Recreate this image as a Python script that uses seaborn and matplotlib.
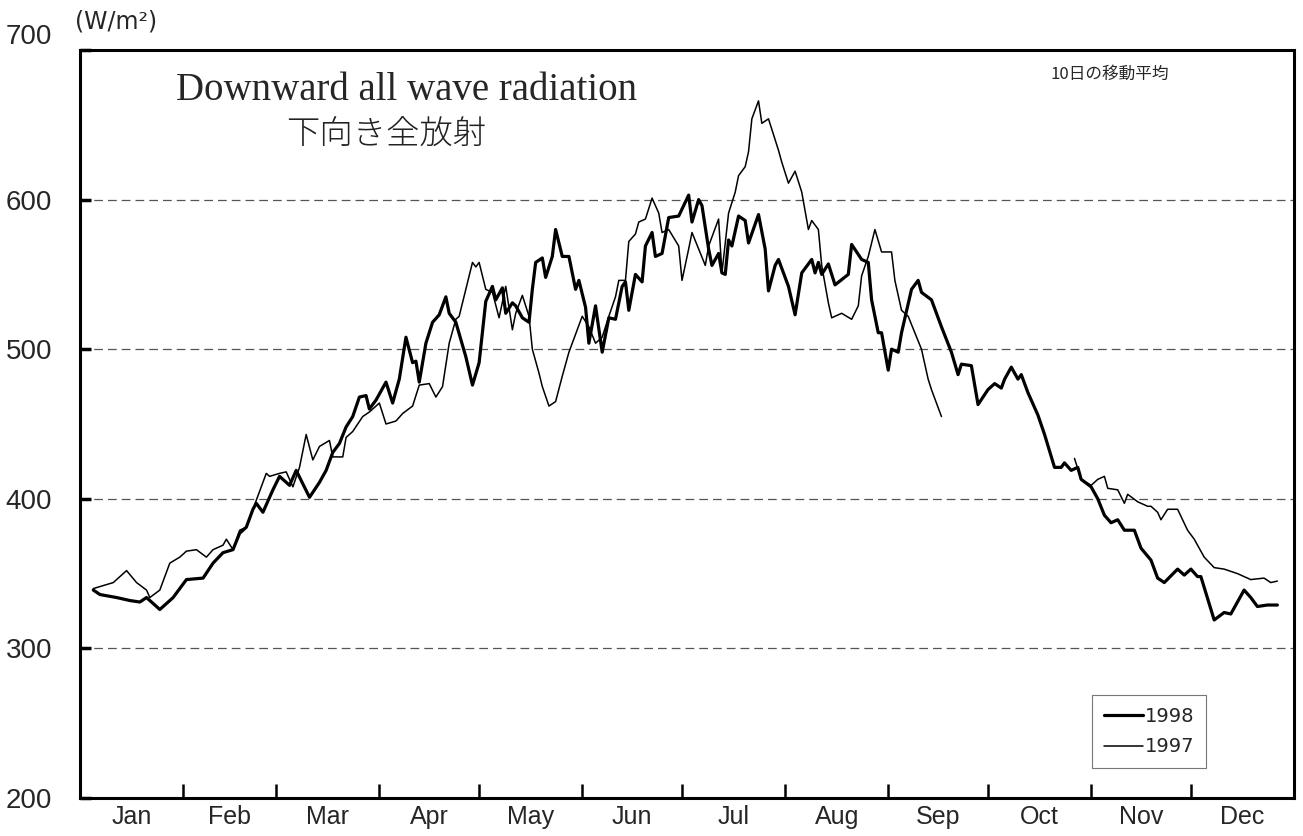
import numpy as np
import pandas as pd
import matplotlib
matplotlib.use("Agg")
import matplotlib.pyplot as plt
from matplotlib.lines import Line2D
import seaborn as sns

# ---------------- data (10-day moving average, W/m2) ----------------
days_1998 = [4, 6, 11, 15, 18, 20, 24, 26, 28, 32, 37, 40, 43, 46, 48, 50, 52, 53, 55, 58,
             60, 63, 65, 69, 72, 74, 76, 78, 80, 82, 84, 86, 87, 89, 92, 94, 96, 98, 100, 101,
             102, 104, 106, 108, 110, 111, 113, 116, 118, 120, 122, 124, 125, 127, 128, 130, 131, 133, 135, 136,
             137, 139, 140, 142, 143, 145, 147, 149, 150, 152, 153, 155, 157, 159, 161, 163, 164, 165, 167, 169,
             170, 172, 173, 175, 177, 180, 183, 184, 186, 187, 189, 190, 192, 193, 194, 195, 196, 198, 200, 201,
             204, 206, 207, 209, 210, 213, 215, 217, 220, 221, 222, 223, 225, 227, 231, 232, 235, 237, 238, 240,
             241, 243, 244, 246, 247, 250, 252, 253, 256, 259, 262, 264, 265, 268, 270, 273, 275, 277, 278, 280,
             282, 283, 285, 288, 290, 293, 295, 296, 298, 300, 301, 304, 306, 308, 310, 312, 314, 317, 319, 322,
             324, 326, 330, 332, 334, 336, 337, 341, 344, 346, 350, 352, 354, 357, 360]
vals_1998 = [339, 336, 334, 332, 331, 334, 326, 330, 334, 346, 347, 357, 364, 366, 377, 381, 393, 397, 391, 406,
             415, 409, 419, 401, 411, 419, 431, 437, 448, 455, 468, 469, 460, 466, 478, 464, 480, 508, 491, 492,
             478, 504, 518, 523, 535, 524, 518, 495, 476, 491, 532, 542, 533, 541, 524, 531, 529, 521, 518, 540,
             558, 561, 548, 562, 580, 562, 562, 540, 546, 528, 504, 529, 498, 521, 520, 542, 545, 526, 550, 545,
             569, 578, 562, 564, 588, 589, 603, 585, 600, 596, 567, 556, 564, 551, 550, 573, 569, 589, 586, 571,
             590, 567, 539, 556, 560, 542, 523, 551, 560, 551, 558, 550, 557, 543, 550, 570, 560, 558, 533, 511,
             511, 486, 500, 498, 511, 540, 546, 538, 533, 515, 498, 483, 490, 489, 463, 473, 477, 474, 480, 488,
             480, 483, 471, 456, 443, 421, 421, 424, 419, 421, 413, 408, 400, 389, 384, 386, 379, 379, 367, 359,
             347, 344, 353, 349, 353, 348, 348, 319, 324, 323, 339, 334, 328, 329, 329]

days_1997 = [4, 10, 14, 17, 20, 21, 24, 27, 30, 32, 35, 38, 40, 43, 44, 46, 48, 50, 53, 56,
             57, 60, 62, 64, 66, 68, 70, 72, 75, 76, 79, 80, 82, 85, 87, 90, 92, 95, 97, 100,
             102, 105, 107, 109, 111, 113, 114, 116, 118, 119, 120, 122, 124, 126, 128, 130, 131, 133, 135, 136,
             138, 139, 141, 143, 145, 147, 149, 151, 153, 155, 157, 159, 161, 162, 164, 165, 167, 168, 170, 172,
             174, 175, 177, 180, 181, 183, 184, 188, 189, 192, 193, 195, 197, 198, 200, 201, 202, 204, 205, 207,
             210, 211, 213, 215, 217, 219, 220, 222, 223, 225, 226, 229, 232, 234, 235, 237, 239, 241, 244, 245,
             247, 249, 251, 253, 255, 256, 259,
             299, 301, 304, 306, 308, 309, 312, 314, 315, 318, 321, 322, 324, 325, 327, 330, 333, 335, 338, 341,
             344, 348, 352, 356, 358, 360]
vals_1997 = [340, 344, 352, 344, 339, 334, 339, 357, 361, 365, 366, 361, 366, 369, 373, 366, 379, 381, 399, 417,
             415, 417, 418, 408, 421, 443, 426, 435, 439, 428, 428, 441, 445, 455, 458, 464, 450, 452, 457, 462,
             476, 477, 468, 475, 504, 520, 522, 540, 558, 555, 558, 540, 538, 521, 542, 513, 524, 536, 522, 500,
             484, 475, 462, 465, 482, 498, 510, 522, 515, 504, 508, 522, 535, 546, 546, 572, 577, 585, 587, 601,
             591, 578, 580, 569, 546, 567, 578, 556, 569, 587, 551, 591, 605, 616, 622, 632, 654, 666, 651, 654,
             633, 625, 611, 619, 605, 580, 586, 580, 556, 531, 521, 524, 520, 529, 549, 562, 580, 565, 565, 546,
             526, 522, 511, 500, 480, 473, 455,
             427, 413, 409, 413, 415, 407, 406, 397, 403, 398, 395, 395, 391, 386, 393, 393, 379, 373, 361, 354,
             353, 350, 346, 347, 344, 345]
segment_1997 = [0] * 127 + [1] * 26

month_edges = [0, 31, 59, 90, 120, 151, 181, 212, 243, 273, 304, 334, 365]
month_labels = ["Jan", "Feb", "Mar", "Apr", "May", "Jun", "Jul", "Aug", "Sep", "Oct", "Nov", "Dec"]
y_ticks = [200, 300, 400, 500, 600, 700]

df98 = pd.DataFrame({"day": days_1998, "value": vals_1998})
df97 = pd.DataFrame({"day": days_1997, "value": vals_1997, "seg": segment_1997})

# ---------------- style ----------------
sns.set_theme(style="white")
plt.rcParams["font.family"] = ["Liberation Sans", "Noto Sans CJK JP", "DejaVu Sans"]

fig = plt.figure(figsize=(13.03, 8.36), dpi=100)
ax = fig.add_axes([80 / 1303, 38 / 836, 1214 / 1303, 748 / 836])

sns.lineplot(data=df97, x="day", y="value", units="seg", estimator=None,
             color="black", linewidth=1.1, ax=ax, legend=False)
sns.lineplot(data=df98, x="day", y="value", estimator=None,
             color="black", linewidth=2.3, ax=ax, legend=False)

ax.set_xlim(0, 365)
ax.set_ylim(200, 700)
ax.set_xlabel("")
ax.set_ylabel("")

# grid
for yv in y_ticks[1:-1]:
    ax.axhline(yv, color="#555555", linewidth=0.9, linestyle=(0, (7, 4)), zorder=0)

# spines
for s in ax.spines.values():
    s.set_color("black")
    s.set_linewidth(2.2)
    s.set_visible(True)

# y ticks
ax.set_yticks(y_ticks)
ax.set_yticklabels([str(v) for v in y_ticks], fontsize=20, family=["Liberation Sans", "DejaVu Sans"])
ax.tick_params(axis="y", direction="in", length=8, width=2.5, pad=20, left=True, color="black")
ax.get_yticklabels()[-1].set_va("bottom")

# x ticks: month boundaries (major, no labels), month names at centres (minor)
ax.set_xticks(month_edges[1:-1])
ax.set_xticklabels([])
ax.tick_params(axis="x", which="major", direction="in", length=10, width=1.8, bottom=True, color="black")
centers = [(month_edges[i] + month_edges[i + 1]) / 2 for i in range(12)]
ax.set_xticks(centers, minor=True)
ax.set_xticklabels(month_labels, minor=True, fontsize=18,
                   family=["Liberation Sans Narrow", "Liberation Sans", "DejaVu Sans"])
ax.tick_params(axis="x", which="minor", length=0, pad=5, bottom=True)

# texts
ax.text(0.269, 0.946, "Downward all wave radiation", transform=ax.transAxes,
        fontsize=28, family=["Liberation Serif", "DejaVu Serif"], ha="center", va="center")
ax.text(0.252, 0.886, "下向き全放射", transform=ax.transAxes, color="#222222",
        fontsize=24, family=["Noto Sans CJK JP", "DejaVu Sans"], ha="center", va="center", fontweight="light")
ax.text(0.848, 0.967, "10日の移動平均", transform=ax.transAxes,
        fontsize=12, family=["Noto Sans CJK JP", "DejaVu Sans"], ha="center", va="center")
fig.text(75 / 1303, 1 - 21 / 836, "(W/m²)", fontsize=17,
         family=["Liberation Sans Narrow", "DejaVu Sans"], ha="left", va="center")

# legend
handles = [Line2D([], [], color="black", linewidth=2.3),
           Line2D([], [], color="black", linewidth=1.1)]
leg = ax.legend(handles, ["1998", "1997"], loc="lower left", bbox_to_anchor=(0.826, 0.027),
                handlelength=2.0, handletextpad=0.1, frameon=True, fancybox=False,
                framealpha=1, edgecolor="#777777", borderpad=0.6, labelspacing=0.6,
                prop={"family": ["Liberation Sans Narrow", "DejaVu Sans"], "size": 14})
leg.get_frame().set_linewidth(0.8)

fig.savefig("out.png", dpi=100)
